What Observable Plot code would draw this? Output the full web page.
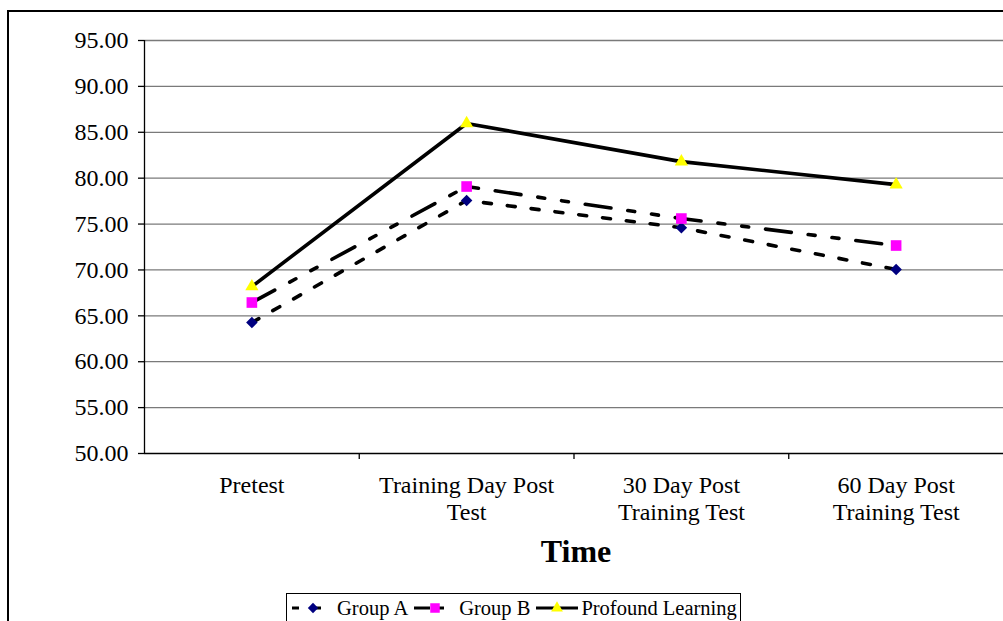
<!DOCTYPE html>
<html><head><meta charset="utf-8">
<script src="https://cdn.jsdelivr.net/npm/d3@7"></script>
<script src="https://cdn.jsdelivr.net/npm/@observablehq/plot@0.6"></script>
<style>
html,body{margin:0;padding:0;background:#fff;overflow:hidden;}
#wrap{position:relative;width:1003px;height:621px;overflow:hidden;font-family:'Liberation Serif',serif;color:#000;}
#frame{position:absolute;left:7px;top:10px;width:1100px;height:700px;border:2px solid #000;box-sizing:border-box;}
#chart{position:absolute;left:0;top:0;}
#xtitle{position:absolute;left:476px;width:200px;top:531px;text-align:center;font-weight:bold;font-size:32px;line-height:40px;font-family:'Liberation Serif',serif;}
#legend{position:absolute;left:286px;top:593px;height:40px;border:1px solid #000;background:#fff;display:flex;align-items:flex-start;padding:0 3px 0 3px;box-sizing:border-box;}
.item{display:flex;align-items:center;height:28px;margin-right:4px;}
.item:last-child{margin-right:0;}
.item span{font-family:'Liberation Serif',serif;font-size:20.5px;line-height:28px;white-space:nowrap;margin-left:1px;}
#chart svg text{font-family:'Liberation Serif',serif !important;}
</style>
</head><body>
<div id="wrap">
  <div id="frame"></div>
  <div id="chart"></div>
  <div id="xtitle">Time</div>
  <div id="legend"></div>
</div>
<script>
const categories = ["Pretest", "Training Day Post Test", "30 Day Post Training Test", "60 Day Post Training Test"];
const categoryLabels = ["Pretest", "Training Day Post\nTest", "30 Day Post\nTraining Test", "60 Day Post\nTraining Test"];
const groupA = [64.27, 77.57, 74.60, 70.05];
const groupB = [66.45, 79.09, 75.60, 72.66];
const profound = [68.19, 85.96, 81.80, 79.30];
const yTicks = [50, 55, 60, 65, 70, 75, 80, 85, 90, 95];
const seriesNames = ["Group A", "Group B", "Profound Learning"];

const series = [
  {name: seriesNames[0], values: groupA, dash: "8,16", symbol: "diamond2", fill: "#000080", r: 5.2},
  {name: seriesNames[1], values: groupB, dash: "26,17,7,17,7,17", symbol: "square", fill: "#FF00FF", r: 6.0},
  {name: seriesNames[2], values: profound, dash: null, symbol: "triangle", fill: "#FFFF00", r: 4.9}
];

const FONT = "'Liberation Serif', serif";
const rows = s => categories.map((c, i) => ({cat: c, x: i + 0.5, y: s.values[i], series: s.name}));
const labelRows = categories.map((c, i) => ({x: i + 0.5, label: categoryLabels[i]}));

const marks = [
  Plot.ruleY(yTicks.filter(d => d > yTicks[0]), {y: d => d, stroke: "#7a7a7a", strokeWidth: 1.3}),
  Plot.ruleY([yTicks[0]], {stroke: "#000", strokeWidth: 1.3}),
  Plot.ruleX([0], {stroke: "#000", strokeWidth: 1.3}),
  Plot.axisY({ticks: yTicks, tickFormat: d => d.toFixed(2), tickSize: 6, tickPadding: 10, fontSize: 24, fontFamily: FONT, label: null, stroke: "#000", strokeWidth: 1.3}),
  Plot.axisX({ticks: d3.range(1, categories.length), tickSize: 6, tickFormat: () => "", label: null, stroke: "#000", strokeWidth: 1.3}),
  Plot.text(labelRows, {x: "x", y: () => yTicks[0], text: "label", lineAnchor: "top", dy: 20, lineHeight: 1.125, fontSize: 24, fontFamily: FONT, fill: "#000"})
];
for (const s of series) {
  const opts = {x: "x", y: "y", stroke: "#000", strokeWidth: 3.6, strokeLinecap: s.dash ? "round" : "butt", strokeLinejoin: "round"};
  if (s.dash) opts.strokeDasharray = s.dash;
  marks.push(Plot.line(rows(s), opts));
}
for (const s of series) {
  marks.push(Plot.dot(rows(s), {x: "x", y: "y", symbol: s.symbol, fill: s.fill, stroke: "none", r: s.r}));
}

const chart = Plot.plot({
  width: 1003, height: 621,
  marginLeft: 144, marginRight: 0, marginTop: 40, marginBottom: 168,
  style: {fontFamily: FONT, fontSize: "24px", background: "transparent", color: "#000", overflow: "visible"},
  x: {domain: [0, categories.length], axis: null},
  y: {domain: [yTicks[0], yTicks[yTicks.length - 1]], axis: null},
  marks
});
document.getElementById("chart").appendChild(chart);

// legend
const legend = d3.select("#legend");
const symMap = {diamond2: d3.symbolDiamond2, square: d3.symbolSquare, triangle: d3.symbolTriangle};
for (const s of series) {
  const item = legend.append("div").attr("class", "item");
  const svg = item.append("svg").attr("width", 46).attr("height", 28);
  const ln = svg.append("line").attr("x1", 2).attr("x2", 44).attr("y1", 14).attr("y2", 14)
    .attr("stroke", "#000").attr("stroke-width", 3.2);
  if (s.name === seriesNames[0]) ln.attr("stroke-dasharray", "7,15");
  else if (s.name === seriesNames[1]) ln.attr("stroke-dasharray", "16,8,6,40");
  svg.append("path").attr("transform", "translate(23,14)")
    .attr("d", d3.symbol(symMap[s.symbol], Math.PI * s.r * s.r * 0.8)())
    .attr("fill", s.fill);
  item.append("span").text(s.name);
}
</script>
</body></html>
